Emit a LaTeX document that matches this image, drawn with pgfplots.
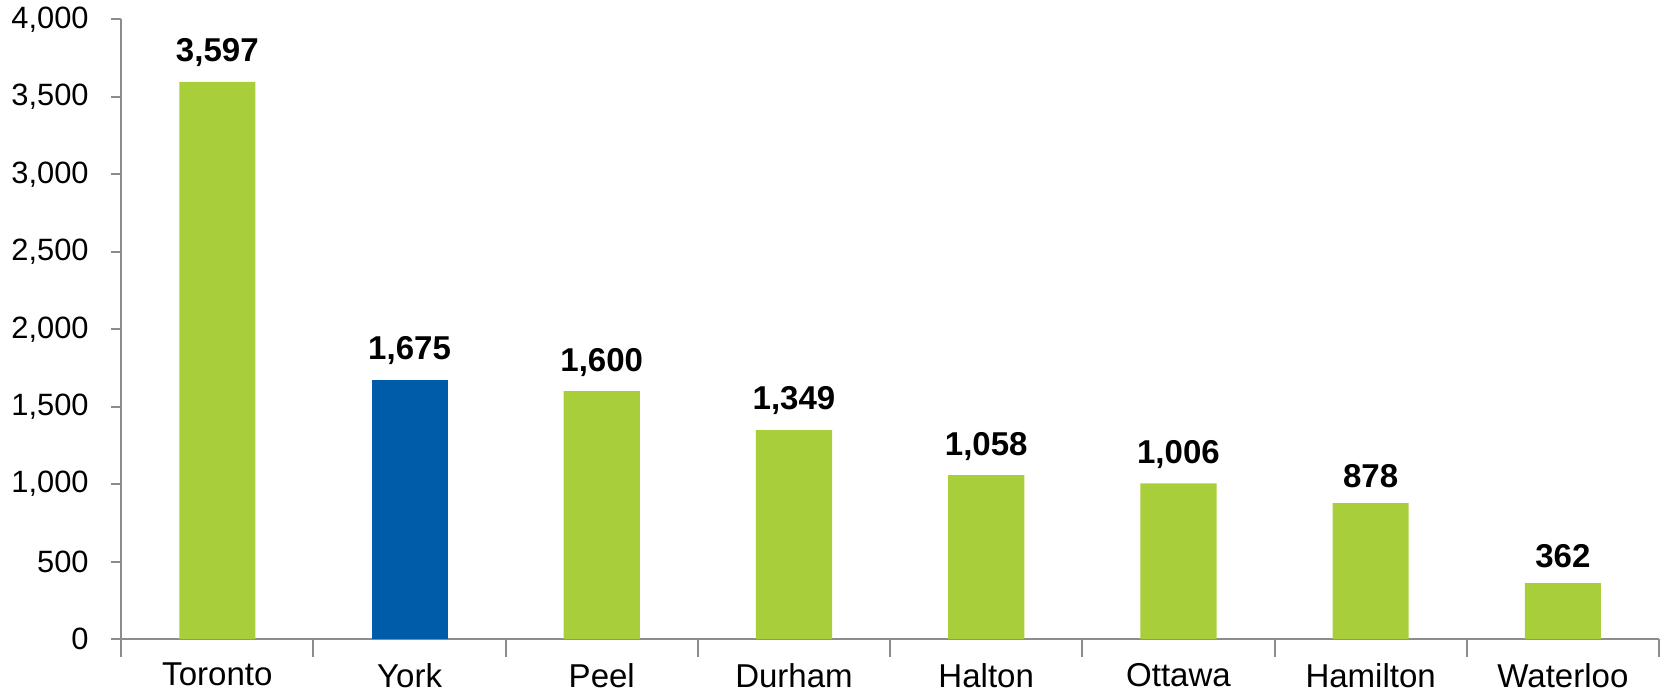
\documentclass[border=0pt]{standalone}
\usepackage{pgfplots}
\pgfplotsset{compat=1.18}
\usepackage{fontspec}
\setmainfont{Liberation Sans}
\definecolor{barg}{HTML}{A8CE3A}
\definecolor{barb}{HTML}{005BA9}
\definecolor{axgray}{HTML}{8C8C8C}
\begin{document}
\begin{tikzpicture}
\begin{axis}[
  scale only axis,
  width=768pt, height=309.5pt,
  xmin=-0.5, xmax=7.5,
  ymin=0, ymax=4000,
  ytick distance=500,
  axis x line*=bottom, axis y line*=left,
  axis line style={axgray, line width=1pt},
  xtick={0,...,7},
  xticklabels={Toronto,York,Peel,Durham,Halton,Ottawa,Hamilton,Waterloo},
  major x tick style={draw=none},
  minor xtick={-0.5,0.5,...,7.5},
  minor x tick style={axgray, line width=1pt},
  minor tick length=9pt,
  tick align=outside,
  major tick length=5pt,
  y tick style={axgray, line width=1pt},
  /pgf/number format/assume math mode=true,
  /pgf/number format/1000 sep={,},
  yticklabel style={font=\fontsize{15.4}{18}\selectfont, inner xsep=5.7pt, xshift=-5.4pt},
  xticklabel style={font=\fontsize{16.5}{18}\selectfont, yshift=-3.5pt},
  ybar, bar width=38pt, bar shift=0pt,
  nodes near coords,
  every node near coord/.append style={font=\fontsize{16.5}{18}\selectfont\bfseries, yshift=4pt},
  clip=false,
]
\addplot[fill=barg, draw=none] coordinates {(0,3597) (2,1600) (3,1349) (4,1058) (5,1006) (6,878) (7,362)};
\addplot[fill=barb, draw=none] coordinates {(1,1675)};
\end{axis}
\end{tikzpicture}
\end{document}
